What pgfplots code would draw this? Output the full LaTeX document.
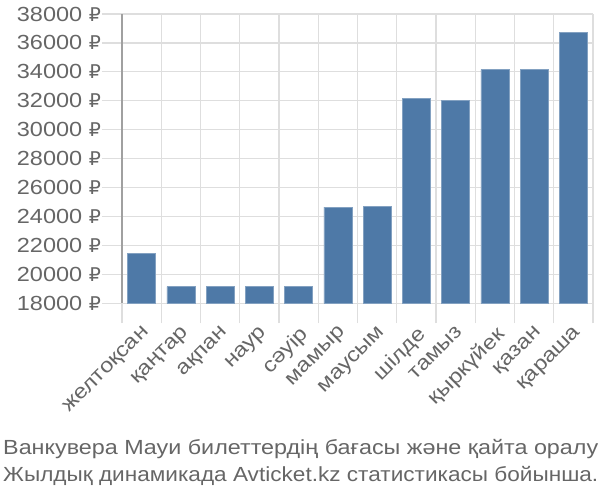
\documentclass[border=0pt]{standalone}
\usepackage{fontspec}
\setmainfont{Liberation Sans}[FakeStretch=1.15]
\newfontfamily\rubfont{DejaVu Sans}
\newcommand{\R}{{\rubfont\fontsize{19}{24}\selectfont ₽}}
\usepackage{graphicx}
\usepackage{pgfplots}
\pgfplotsset{compat=1.18}
\definecolor{barblue}{RGB}{78,121,167}
\definecolor{gridgray}{RGB}{222,222,222}
\definecolor{axisgray}{RGB}{160,160,160}
\definecolor{txtgray}{RGB}{102,102,102}
\begin{document}
\begin{tikzpicture}[x=1bp,y=1bp]
\fontsize{20.5}{24}\selectfont
\path[use as bounding box] (0,0) rectangle (600,500);
\begin{axis}[
  at={(122bp,196.7bp)}, anchor=south west,
  scale only axis, width=471bp, height=289.3bp,
  xmin=-0.5, xmax=11.5, ymin=18000, ymax=38000,
  scaled y ticks=false,
  axis x line*=bottom, axis y line*=left,
  x axis line style={draw=gridgray, line width=1.2bp, -},
  y axis line style={draw=axisgray, line width=1.2bp, -},
  tick align=outside,
  xtick={0,...,11},
  xticklabels={желтоқсан,қаңтар,ақпан,наур,сәуір,мамыр,маусым,шілде,тамыз,қыркүйек,қазан,қараша},
  minor xtick={-0.5,0.5,...,11.5},
  x tick style={draw=none},
  minor x tick style={draw=gridgray, line width=1.2bp},
  minor tick length=20bp,
  xminorgrids=true,
  ymajorgrids=true,
  ytick={18000,20000,...,38000},
  yticklabels={18000 \R,20000 \R,22000 \R,24000 \R,26000 \R,28000 \R,30000 \R,32000 \R,34000 \R,36000 \R,38000 \R},
  y tick style={draw=gridgray, line width=1.2bp},
  major tick length=20bp,
  grid style={draw=gridgray, line width=1.2bp},
  minor grid style={draw=gridgray, line width=1.2bp},
  tick label style={font=\fontsize{20.5}{24}\selectfont, text=txtgray},
  yticklabel style={inner sep=1bp},
  xticklabel style={rotate=45, anchor=north east, inner sep=1bp},
  ybar, bar width=0.71,
]
\addplot[fill=barblue, draw=barblue!70!white, line width=0.6bp] coordinates {
(0,21450) (1,19150) (2,19150) (3,19150) (4,19150) (5,24650) (6,24700) (7,32170) (8,32000) (9,34150) (10,34150) (11,36700)};
\end{axis}
\node[anchor=base west, text=txtgray, inner sep=0] at (3,45) {\resizebox{595bp}{\height}{Ванкувера Мауи билеттердің бағасы және қайта оралу}};
\node[anchor=base west, text=txtgray, inner sep=0] at (3,18) {\resizebox{595bp}{\height}{Жылдық динамикада Avticket.kz статистикасы бойынша.}};
\end{tikzpicture}
\end{document}
